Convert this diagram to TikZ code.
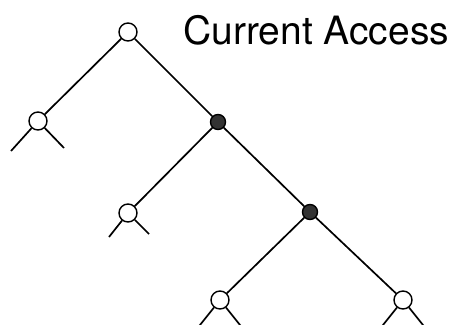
\documentclass[tikz,border=0pt]{standalone}
\usepackage{fontspec}
\setsansfont{TeX Gyre Heros}
\usetikzlibrary{positioning}

\begin{document}
\begin{tikzpicture}[
    x=1pt, y=-1pt,
    vertex/.style={circle, draw, line width=1.4pt, minimum size=18pt, inner sep=0pt, fill=white},
    active/.style={vertex, fill=black!80, minimum size=15pt},
    edge/.style={line width=1.7pt},
    title/.style={font=\sffamily\fontsize{39}{42}\selectfont, anchor=base west, inner sep=0pt}
]
\useasboundingbox (0,0) rectangle (455,324);

% Tree nodes
\node[vertex] (root) at (128,32) {};
\node[vertex] (lft) at (38,121) {};
\node[active] (rgt) at (218,122) {};
\node[vertex] (rgtl) at (128,213) {};
\node[active] (rgtr) at (310,212) {};
\node[vertex] (rrl) at (220,300) {};
\node[vertex] (rrr) at (403,300) {};

% Label
\node[title] (label) at (183,44) {Current Access};

% Free ends of the leaf stubs
\coordinate (lftA) at (11,151);
\coordinate (lftB) at (64,148);
\coordinate (rglA) at (109,237);
\coordinate (rglB) at (149,234);
\coordinate (rrlA) at (196,330);
\coordinate (rrlB) at (244,330);
\coordinate (rrrA) at (379,330);
\coordinate (rrrB) at (427,330);

% Branches
\draw[edge] (root) -- (lft);
\draw[edge] (root) -- (rgt);
\draw[edge] (rgt) -- (rgtl);
\draw[edge] (rgt) -- (rgtr);
\draw[edge] (rgtr) -- (rrl);
\draw[edge] (rgtr) -- (rrr);

% Stubs
\draw[edge] (lft) -- (lftA);
\draw[edge] (lft) -- (lftB);
\draw[edge] (rgtl) -- (rglA);
\draw[edge] (rgtl) -- (rglB);
\draw[edge] (rrl) -- (rrlA);
\draw[edge] (rrl) -- (rrlB);
\draw[edge] (rrr) -- (rrrA);
\draw[edge] (rrr) -- (rrrB);

\end{tikzpicture}
\end{document}
